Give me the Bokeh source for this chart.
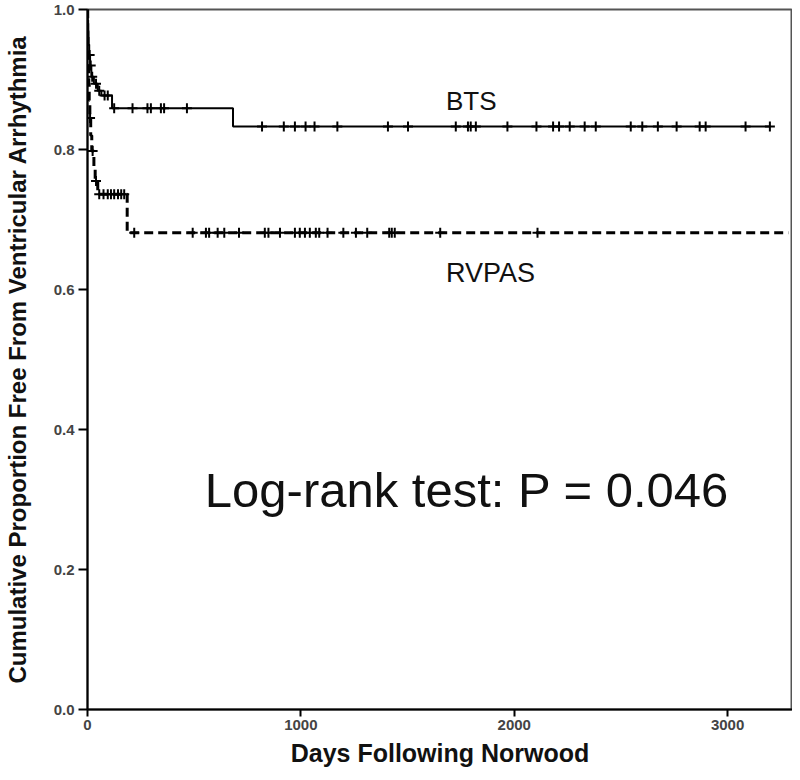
import numpy as np
from bokeh.plotting import figure
from bokeh.models import Range1d, FixedTicker, Label, NumeralTickFormatter
from bokeh.embed import file_html
from bokeh.resources import INLINE

# ---- data ----
bts_event_days = [1, 3, 5, 8, 12, 18, 30, 48, 65, 115, 682]
bts_survival = [0.985, 0.968, 0.950, 0.935, 0.920, 0.904, 0.894, 0.884, 0.877, 0.859, 0.833]
bts_censor_days = [10, 15, 22, 40, 55, 80, 95, 125, 211, 281, 297, 344, 359, 466,
                   818, 920, 972, 1022, 1064, 1171, 1408, 1502, 1726, 1783, 1796, 1820,
                   1968, 2104, 2182, 2210, 2260, 2330, 2382, 2546, 2600, 2673, 2761,
                   2869, 2897, 3084, 3198]
bts_last_day = 3198

rvpas_event_days = [1, 2, 4, 6, 8, 11, 15, 20, 30, 36, 48, 186]
rvpas_survival = [0.970, 0.945, 0.920, 0.895, 0.870, 0.845, 0.820, 0.798, 0.776, 0.755, 0.736, 0.681]
rvpas_censor_days = [12, 24, 40, 55, 75, 95, 110, 125, 143, 158, 172,
                     219, 493, 555, 570, 610, 641, 710, 831, 848, 902, 972, 995,
                     1019, 1042, 1070, 1086, 1125, 1199, 1258, 1311, 1414, 1426,
                     1440, 1653, 2109]
rvpas_last_day = 3285

x_ticks = [0, 1000, 2000, 3000]
y_ticks = [0.0, 0.2, 0.4, 0.6, 0.8, 1.0]

group_labels = ["BTS", "RVPAS"]
test_text = "Log-rank test: P = 0.046"


def km_path(times, surv, end):
    xs, ys = [0.0], [1.0]
    for t, s in zip(times, surv):
        xs += [t, t]
        ys += [ys[-1], s]
    xs.append(end)
    ys.append(ys[-1])
    return xs, ys


def surv_at(times, surv, t):
    s = 1.0
    for et, sv in zip(times, surv):
        if et <= t:
            s = sv
    return s


p = figure(width=792, height=772, output_backend="svg", toolbar_location=None,
           x_range=Range1d(0, 3304), y_range=Range1d(0, 1.0),
           min_border_left=87, min_border_right=0, min_border_top=9, min_border_bottom=63)
p.xgrid.visible = False
p.ygrid.visible = False
p.outline_line_color = "#555555"
p.outline_line_width = 2
p.background_fill_color = "white"
p.border_fill_color = "white"

# BTS
bx, by = km_path(bts_event_days, bts_survival, bts_last_day)
p.line(bx, by, line_color="black", line_width=2)
p.scatter(bts_censor_days, [surv_at(bts_event_days, bts_survival, t) for t in bts_censor_days],
          marker="cross", size=10, line_color="black", line_width=2)

# RVPAS
rx, ry = km_path(rvpas_event_days, rvpas_survival, rvpas_last_day)
p.line(rx, ry, line_color="black", line_width=3, line_dash="9 5")
p.scatter(rvpas_censor_days, [surv_at(rvpas_event_days, rvpas_survival, t) for t in rvpas_censor_days],
          marker="cross", size=10, line_color="black", line_width=2)

# annotations
p.add_layout(Label(x=1680, y=0.87, text=group_labels[0], text_font="Liberation Sans",
                   text_font_size="26px", text_baseline="middle", text_color="#111111"))
p.add_layout(Label(x=1680, y=0.624, text=group_labels[1], text_font="Liberation Sans",
                   text_font_size="27px", text_baseline="middle", text_color="#111111"))
p.add_layout(Label(x=550, y=0.313, text=test_text, text_font="Liberation Sans",
                   text_font_size="49px", text_baseline="middle", text_color="#111111"))

# axes
for ax in (p.xaxis[0], p.yaxis[0]):
    ax.axis_line_color = "black"
    ax.axis_line_width = 2
    ax.major_tick_line_color = "black"
    ax.major_tick_line_width = 2
    ax.major_tick_in = 0
    ax.minor_tick_line_color = None
    ax.major_label_text_font = "Liberation Sans"
    ax.major_label_text_font_style = "bold"
    ax.major_label_text_font_size = "15px"
    ax.major_label_text_color = "#444444"
    ax.axis_label_text_font = "Liberation Sans"
    ax.axis_label_text_font_style = "bold"
    ax.axis_label_text_color = "#111111"

p.xaxis.major_tick_out = 7
p.yaxis.major_tick_out = 9
p.xaxis.ticker = FixedTicker(ticks=x_ticks)
p.yaxis.ticker = FixedTicker(ticks=y_ticks)
p.yaxis.formatter = NumeralTickFormatter(format="0.0")
p.xaxis.major_label_standoff = 3
p.yaxis.major_label_standoff = 4
p.xaxis.axis_label = "Days Following Norwood"
p.yaxis.axis_label = "Cumulative Proportion Free From Ventricular Arrhythmia"
p.xaxis.axis_label_text_font_size = "25px"
p.yaxis.axis_label_text_font_size = "24px"
p.xaxis.axis_label_standoff = 6
p.yaxis.axis_label_standoff = 20

open("out.html", "w").write(file_html(p, INLINE))
